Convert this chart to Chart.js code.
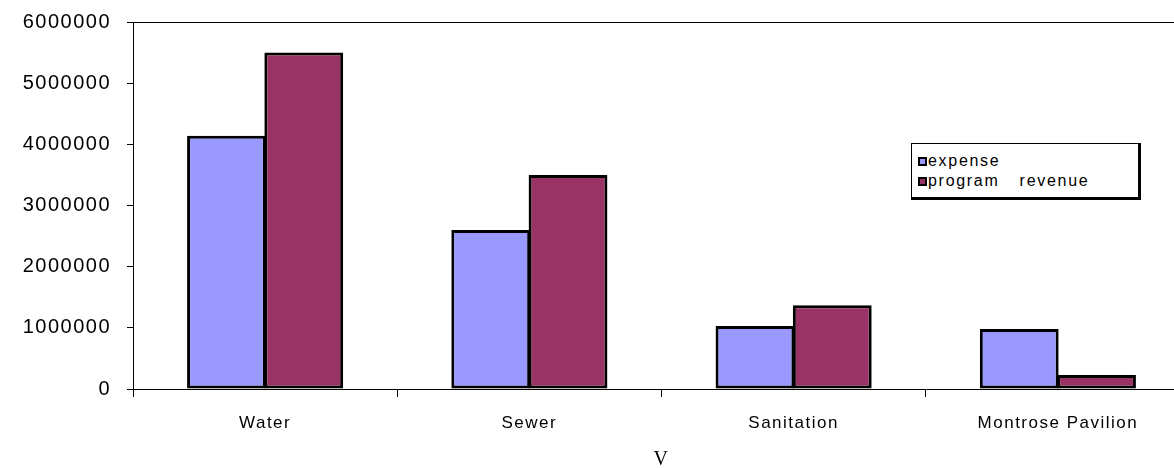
<!DOCTYPE html>
<html>
<head>
<meta charset="utf-8">
<script src="https://cdn.jsdelivr.net/npm/chart.js@4.4.1/dist/chart.umd.min.js"></script>
<style>
    html, body { margin: 0; padding: 0; background: #fff; overflow: hidden; }
    #wrap { position: relative; width: 1190px; height: 468px; }
    #legendBox {
        position: absolute; left: 911px; top: 143px; width: 226px; height: 53px;
        border: 1px solid #000; border-right-width: 3px; border-bottom-width: 3px;
        background: #fff; font-family: "Liberation Sans", Arial, sans-serif; font-size: 16px;
        letter-spacing: 1.7px; word-spacing: 14px; color: #000;
    }
    .item { position: absolute; left: 6px; display: flex; align-items: center; white-space: nowrap; }
    .swatch { width: 5px; height: 5px; border: 2px solid #000; margin-right: 1px; }
</style>
</head>
<body>
<div id="wrap">
    <canvas id="chart"></canvas>
    <div id="legendBox">
        <div class="item" style="top: 8px;"><span class="swatch" style="background:#9999FF"></span>expense</div>
        <div class="item" style="top: 28px;"><span class="swatch" style="background:#993366"></span>program revenue</div>
    </div>
</div>
<script>
const categories = ['Water', 'Sewer', 'Sanitation', 'Montrose Pavilion'];
const expense = [4140000, 2600000, 1030000, 980000];
const programRevenue = [5500000, 3500000, 1370000, 230000];
const yTicks = [0, 1000000, 2000000, 3000000, 4000000, 5000000, 6000000];

const FONT = '"Liberation Sans", Arial, sans-serif';

// the source picture has loose text spacing, widen the canvas text a bit
const spacingPlugin = {
    id: 'spacing',
    beforeDraw(chart) { chart.ctx.letterSpacing = '1.5px'; }
};

new Chart(document.getElementById('chart'), {
    type: 'bar',
    data: {
        labels: categories,
        datasets: [
            {
                label: 'expense',
                data: expense,
                backgroundColor: '#9999FF',
                borderColor: '#000',
                borderWidth: 3,
                borderSkipped: false
            },
            {
                label: 'program revenue',
                data: programRevenue,
                backgroundColor: '#993366',
                borderColor: '#000',
                borderWidth: 3,
                borderSkipped: false
            }
        ]
    },
    options: {
        responsive: true,
        maintainAspectRatio: false,
        animation: false,
        layout: { autoPadding: false, padding: { top: 22, right: 0, left: 0, bottom: 0 } },
        datasets: { bar: { barPercentage: 1.02, categoryPercentage: 0.585 } },
        plugins: {
            legend: { display: false },
            tooltip: { enabled: false }
        },
        scales: {
            x: {
                grid: {
                    offset: true,
                    drawOnChartArea: false,
                    tickLength: 8,
                    color: '#000',
                    lineWidth: 1
                },
                border: { color: '#000', width: 1 },
                ticks: {
                    color: '#000',
                    padding: 16,
                    font: { family: FONT, size: 17 }
                },
                title: {
                    display: true,
                    text: 'V',
                    color: '#000',
                    padding: { top: 0, bottom: -4 },
                    font: { family: '"Liberation Serif", "Times New Roman", serif', size: 20 }
                },
                afterFit: scale => {
                    scale.height = 79;
                    scale.paddingLeft = 0;
                    scale.paddingRight = 0;
                }
            },
            y: {
                min: 0,
                max: 6000000,
                afterBuildTicks: scale => { scale.ticks = yTicks.map(v => ({ value: v })); },
                grid: {
                    drawOnChartArea: true,
                    tickLength: 6,
                    tickColor: '#000',
                    color: ctx => (ctx.tick && ctx.tick.value === 6000000) ? '#000' : 'rgba(0,0,0,0)'
                },
                border: { color: '#000', width: 1 },
                ticks: {
                    color: '#000',
                    padding: 16,
                    font: { family: FONT, size: 20 },
                    callback: v => String(v)
                },
                afterFit: scale => {
                    scale.width = 133;
                    scale.paddingTop = 0;
                    scale.paddingBottom = 0;
                }
            }
        }
    },
    plugins: [spacingPlugin]
});
</script>
</body>
</html>
